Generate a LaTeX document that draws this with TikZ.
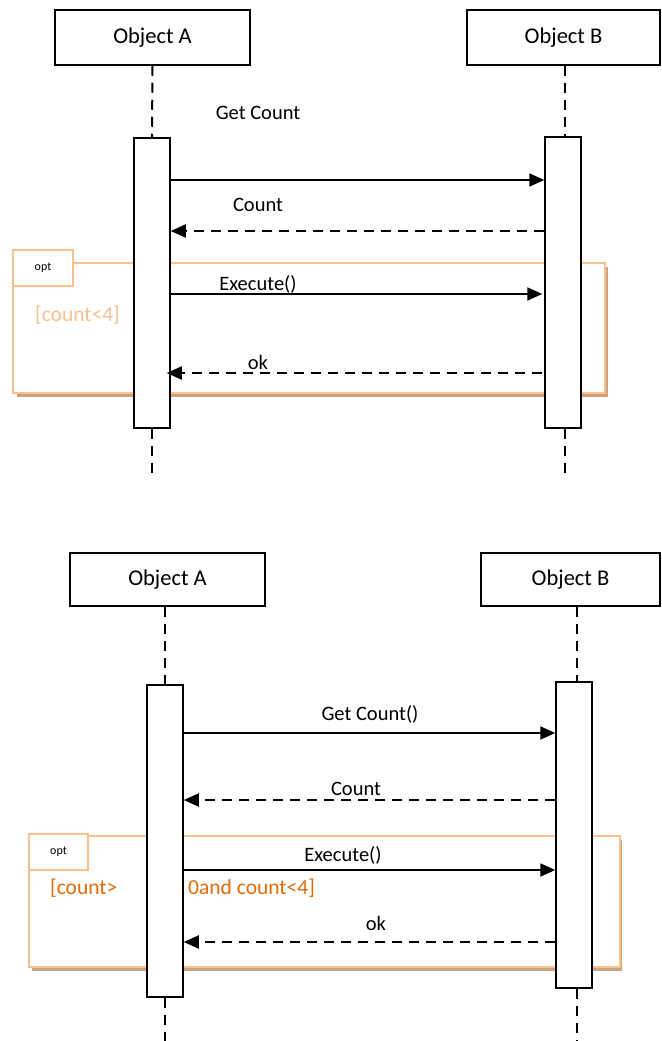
\documentclass[tikz,border=0pt]{standalone}
\usepackage{fontspec}
\setmainfont{Carlito}
\usetikzlibrary{arrows.meta}
\definecolor{peach}{HTML}{FAC090}
\definecolor{tan}{HTML}{CDA07E}
\definecolor{dorange}{HTML}{E36C09}
\tikzset{
  objbox/.style={draw, line width=1.5pt, fill=white, inner sep=0pt, font=\fontsize{22.5}{26}\selectfont},
  actbox/.style={draw, line width=1.5pt, fill=white, minimum width=36pt, inner sep=0pt},
  life/.style={line width=2pt, dash pattern=on 10pt off 7pt},
  msg/.style={line width=2pt, -{Triangle[length=15pt,width=13pt]}},
  reply/.style={msg, dash pattern=on 10pt off 7pt},
  lbl/.style={font=\fontsize{20.5}{24}\selectfont, inner sep=0pt},
  cond/.style={inner sep=0pt, anchor=west, font=\fontsize{21.5}{25}\selectfont},
  frm/.style={draw=peach, line width=2.5pt, fill=white},
  shd/.style={fill=tan},
  tab/.style={draw=peach, line width=2.5pt, fill=white, font=\fontsize{12}{14}\selectfont, inner sep=0pt},
}
\begin{document}
\begin{tikzpicture}[x=1pt,y=-1pt]
\useasboundingbox (0,0) rectangle (661,1041);
% ---------- top diagram ----------
\node[objbox, minimum width=195pt, minimum height=55pt] (objA) at (152.5,37.5) {Object A};
\node[objbox, minimum width=193pt, minimum height=55pt] (objB) at (563.5,37.5) {Object B};
% opt frame
\fill[shd] (17,267) rectangle (608,397);
\draw[frm] (13,263) rectangle (605,393);
\node[tab, minimum width=60pt, minimum height=36pt] (tab1) at (43,268) {opt};
\node[cond, text=peach] (cond1) at (35,315) {[count<4]};
% activations
\node[actbox, minimum height=290pt] (actA) at (152,283) {};
\node[actbox, minimum height=291pt] (actB) at (563,282.5) {};
\coordinate (endA) at (152,475);
\coordinate (endB) at (565,475);
\draw[life] (objA.south) -- (actA.north);
\draw[life] (actA.south) -- (endA);
\draw[life] (objB.south -| 565,0) -- (actB.north -| 565,0);
\draw[life] (actB.south -| 565,0) -- (endB);
% messages
\coordinate (r1) at (0,180);
\coordinate (r2) at (0,231);
\coordinate (r3) at (0,294);
\coordinate (r4) at (0,373);
\draw[msg] (actA.east |- r1) -- (actB.west |- r1);
\draw[reply] (actB.west |- r2) -- (actA.east |- r2);
\draw[msg] (actA.east |- r3) -- ([xshift=-2pt]actB.west |- r3);
\draw[reply] ([xshift=-2pt]actB.west |- r4) -- ([xshift=-4pt]actA.east |- r4);
\node[lbl] (l1) at (258,113) {Get Count};
\node[lbl] (l2) at (258,205) {Count};
\node[lbl] (l3) at (258,284) {Execute()};
\node[lbl] (l4) at (258,362) {ok};
% ---------- bottom diagram ----------
\node[objbox, minimum width=195pt, minimum height=53pt] (objA2) at (167.5,579.5) {Object A};
\node[objbox, minimum width=179pt, minimum height=53pt] (objB2) at (570.5,579.5) {Object B};
\fill[shd] (32,840) rectangle (622,971);
\draw[frm] (29,836) rectangle (620,967);
\node[tab, minimum width=59pt, minimum height=36pt] (tab2) at (58.5,852) {opt};
\node[cond, text=dorange] (cond2a) at (50,888) {[count>};
\node[cond, text=dorange] (cond2b) at (188,888) {0and count<4]};
\node[actbox, minimum height=312pt] (actA2) at (165,841) {};
\node[actbox, minimum height=306pt] (actB2) at (574,835) {};
\coordinate (endA2) at (165,1041);
\coordinate (endB2) at (577,1041);
\draw[life] (objA2.south -| actA2) -- (actA2.north);
\draw[life] (actA2.south) -- (endA2);
\draw[life] (objB2.south -| 577,0) -- (actB2.north -| 577,0);
\draw[life] (actB2.south -| 577,0) -- (endB2);
\coordinate (s1) at (0,733);
\coordinate (s2) at (0,800);
\coordinate (s3) at (0,870);
\coordinate (s4) at (0,942);
\draw[msg] (actA2.east |- s1) -- (actB2.west |- s1);
\draw[reply] (actB2.west |- s2) -- (actA2.east |- s2);
\draw[msg] (actA2.east |- s3) -- (actB2.west |- s3);
\draw[reply] (actB2.west |- s4) -- (actA2.east |- s4);
\node[lbl] (m1) at (370,714) {Get Count()};
\node[lbl] (m2) at (356,789) {Count};
\node[lbl] (m3) at (343,855) {Execute()};
\node[lbl] (m4) at (376,923) {ok};
\end{tikzpicture}
\end{document}
